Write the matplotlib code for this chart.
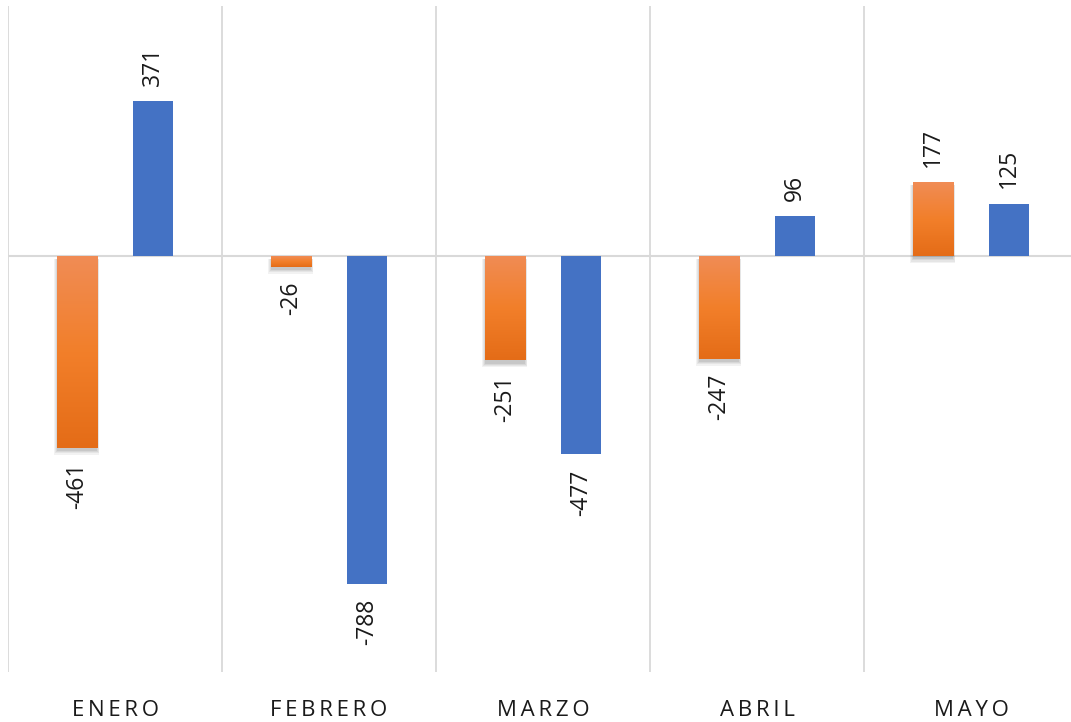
import numpy as np
import matplotlib.pyplot as plt
from matplotlib.colors import LinearSegmentedColormap
from matplotlib.patches import Rectangle

meses = ["ENERO", "FEBRERO", "MARZO", "ABRIL", "MAYO"]
serie_naranja = [-461, -26, -251, -247, 177]
serie_azul = [371, -788, -477, 96, 125]

naranja_grad = LinearSegmentedColormap.from_list("naranja", ["#E46C17", "#F27F2A", "#F08C55"])
azul = "#4472C4"

fig = plt.figure(figsize=(10.71, 7.22), dpi=100)
ax = fig.add_axes([8 / 1071, 50 / 722, 1070 / 1071, 666 / 722])

x = np.arange(len(meses))
ancho = 0.187
desp = 0.178
ax.set_xlim(-0.5, len(meses) - 0.5)
ax.set_ylim(-1000, 600)

# lineas verticales entre categorias y linea de cero
for b in np.arange(-0.5, len(meses), 1.0):
    ax.axvline(b, color="#D9D9D9", lw=1.3, zorder=0)
ax.axhline(0, color="#D9D9D9", lw=1.5, zorder=1)

gradiente = np.linspace(0, 1, 256).reshape(-1, 1)
for xi, v in zip(x - desp, serie_naranja):
    lo, hi = min(0, v), max(0, v)
    # sombra difusa
    for k, a in enumerate([0.05, 0.05, 0.06, 0.07]):
        e = (3 - k) * 0.004
        ax.add_patch(Rectangle((xi - ancho / 2 - e, lo - 8 - (3 - k) * 3), ancho + 2 * e,
                               hi - lo + (3 - k) * 3, facecolor="#000000", alpha=a,
                               lw=0, zorder=1.5))
    rect = Rectangle((xi - ancho / 2, lo), ancho, hi - lo, facecolor="none", lw=0, zorder=2)
    ax.add_patch(rect)
    im = ax.imshow(gradiente, cmap=naranja_grad, aspect="auto", origin="lower",
                   extent=(xi - ancho / 2, xi + ancho / 2, lo, hi), zorder=2)
    im.set_clip_path(rect)

ax.bar(x + desp, serie_azul, width=ancho, color=azul, zorder=2)

for xs, serie in ((x - desp, serie_naranja), (x + desp, serie_azul)):
    for xi, v in zip(xs, serie):
        ax.annotate(str(v), (xi, v), xytext=(0, 11 if v > 0 else -11),
                    textcoords="offset points", rotation=90, ha="center",
                    va="bottom" if v > 0 else "top", fontsize=16.5, color="#1A1A1A",
                    family="Open Sans")

ax.set_xticks(x)
ax.set_xticklabels(["\u2009".join(m) for m in meses], fontsize=16, color="#1A1A1A",
                   family="Open Sans")
ax.tick_params(axis="x", length=0, pad=20)
ax.set_yticks([])
for s in ax.spines.values():
    s.set_visible(False)

fig.savefig("out.png", dpi=100)
